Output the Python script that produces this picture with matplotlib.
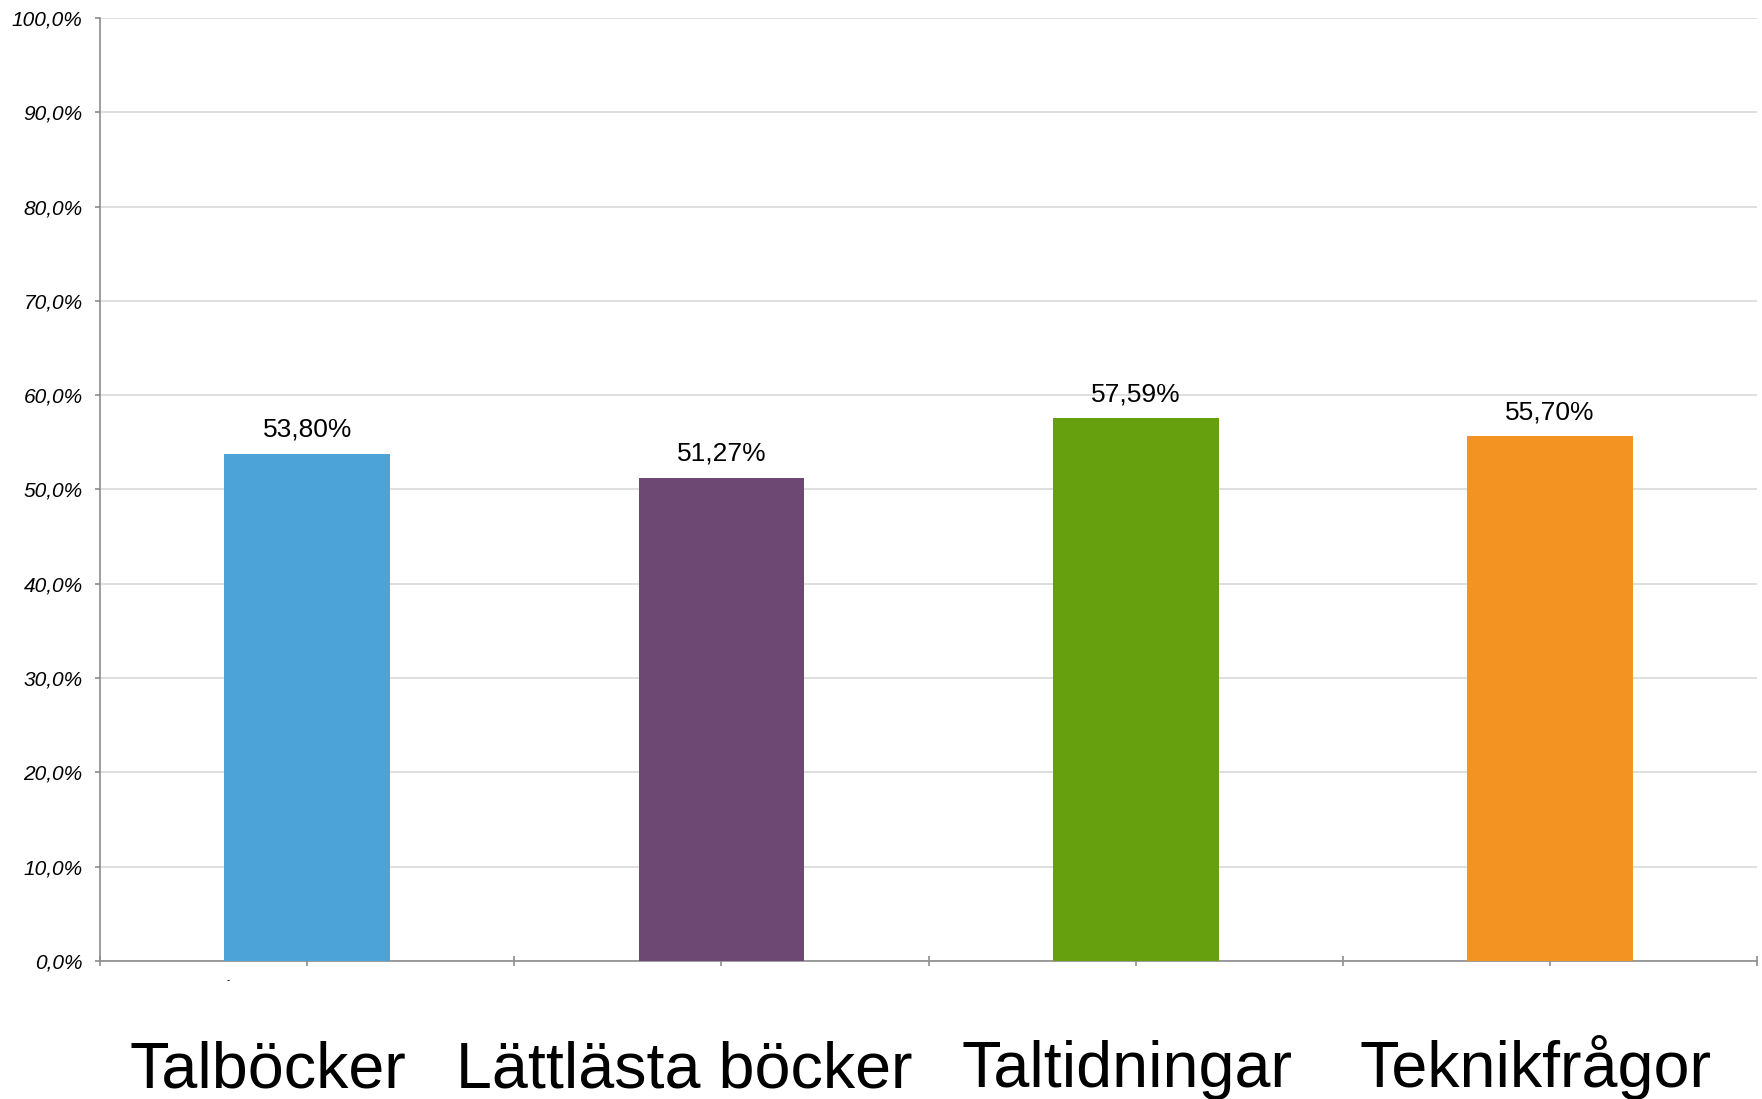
import matplotlib
matplotlib.use("Agg")
import matplotlib.pyplot as plt
from matplotlib.transforms import blended_transform_factory

categories = ["Talböcker", "Lättlästa böcker", "Taltidningar", "Teknikfrågor"]
values = [53.80, 51.27, 57.59, 55.70]
value_labels = ["53,80%", "51,27%", "57,59%", "55,70%"]
colors = ["#4BA3D8", "#6D4873", "#66A00F", "#F39322"]
label_shift = [-0.094, -0.089, -0.022, -0.036]
yticks = [0, 10, 20, 30, 40, 50, 60, 70, 80, 90, 100]
ytick_labels = ["0,0%", "10,0%", "20,0%", "30,0%", "40,0%", "50,0%",
                "60,0%", "70,0%", "80,0%", "90,0%", "100,0%"]

plt.rcParams['font.family'] = ['Liberation Sans', 'DejaVu Sans']

fig = plt.figure(figsize=(17.62, 10.99), dpi=100)
ax = fig.add_axes([0.0568, 0.1256, 0.9404, 0.858])

x = list(range(len(categories)))
ax.bar(x, values, width=0.4, color=colors, zorder=3)

ax.set_xlim(-0.5, len(categories) - 0.5)
ax.set_ylim(0, 100)

ax.set_yticks(yticks)
ax.set_yticklabels(ytick_labels, fontsize=15, fontstyle='italic')
ax.yaxis.grid(True, color='#d9d9d9', linewidth=1.2, zorder=0)
ax.tick_params(axis='y', direction='out', length=3.6, width=1.2, color='#8c8c8c', pad=9)

xt = [i - 0.5 for i in range(len(categories) + 1)] + x
ax.set_xticks(sorted(xt))
ax.set_xticklabels([])
ax.tick_params(axis='x', direction='inout', length=7, width=1.2, color='#8c8c8c')

for side in ['top', 'right']:
    ax.spines[side].set_visible(False)
for side in ['left', 'bottom']:
    ax.spines[side].set_color('#8c8c8c')
    ax.spines[side].set_linewidth(1.2)

for xi, v, lab in zip(x, values, value_labels):
    ax.annotate(lab, (xi, v), xytext=(0, 12), textcoords='offset points',
                ha='center', va='baseline', fontsize=19, color='black')

trans = blended_transform_factory(ax.transData, fig.transFigure)
for xi, cat, s in zip(x, categories, label_shift):
    ax.text(xi + s, 0.0109, cat, transform=trans, ha='center', va='baseline',
            fontsize=46.5, color='black')

ax.text(-0.19, -0.02, '-', transform=blended_transform_factory(ax.transData, ax.transAxes),
        ha='center', va='center', fontsize=7, color='black')

fig.savefig("out.png", dpi=100, facecolor='white')
